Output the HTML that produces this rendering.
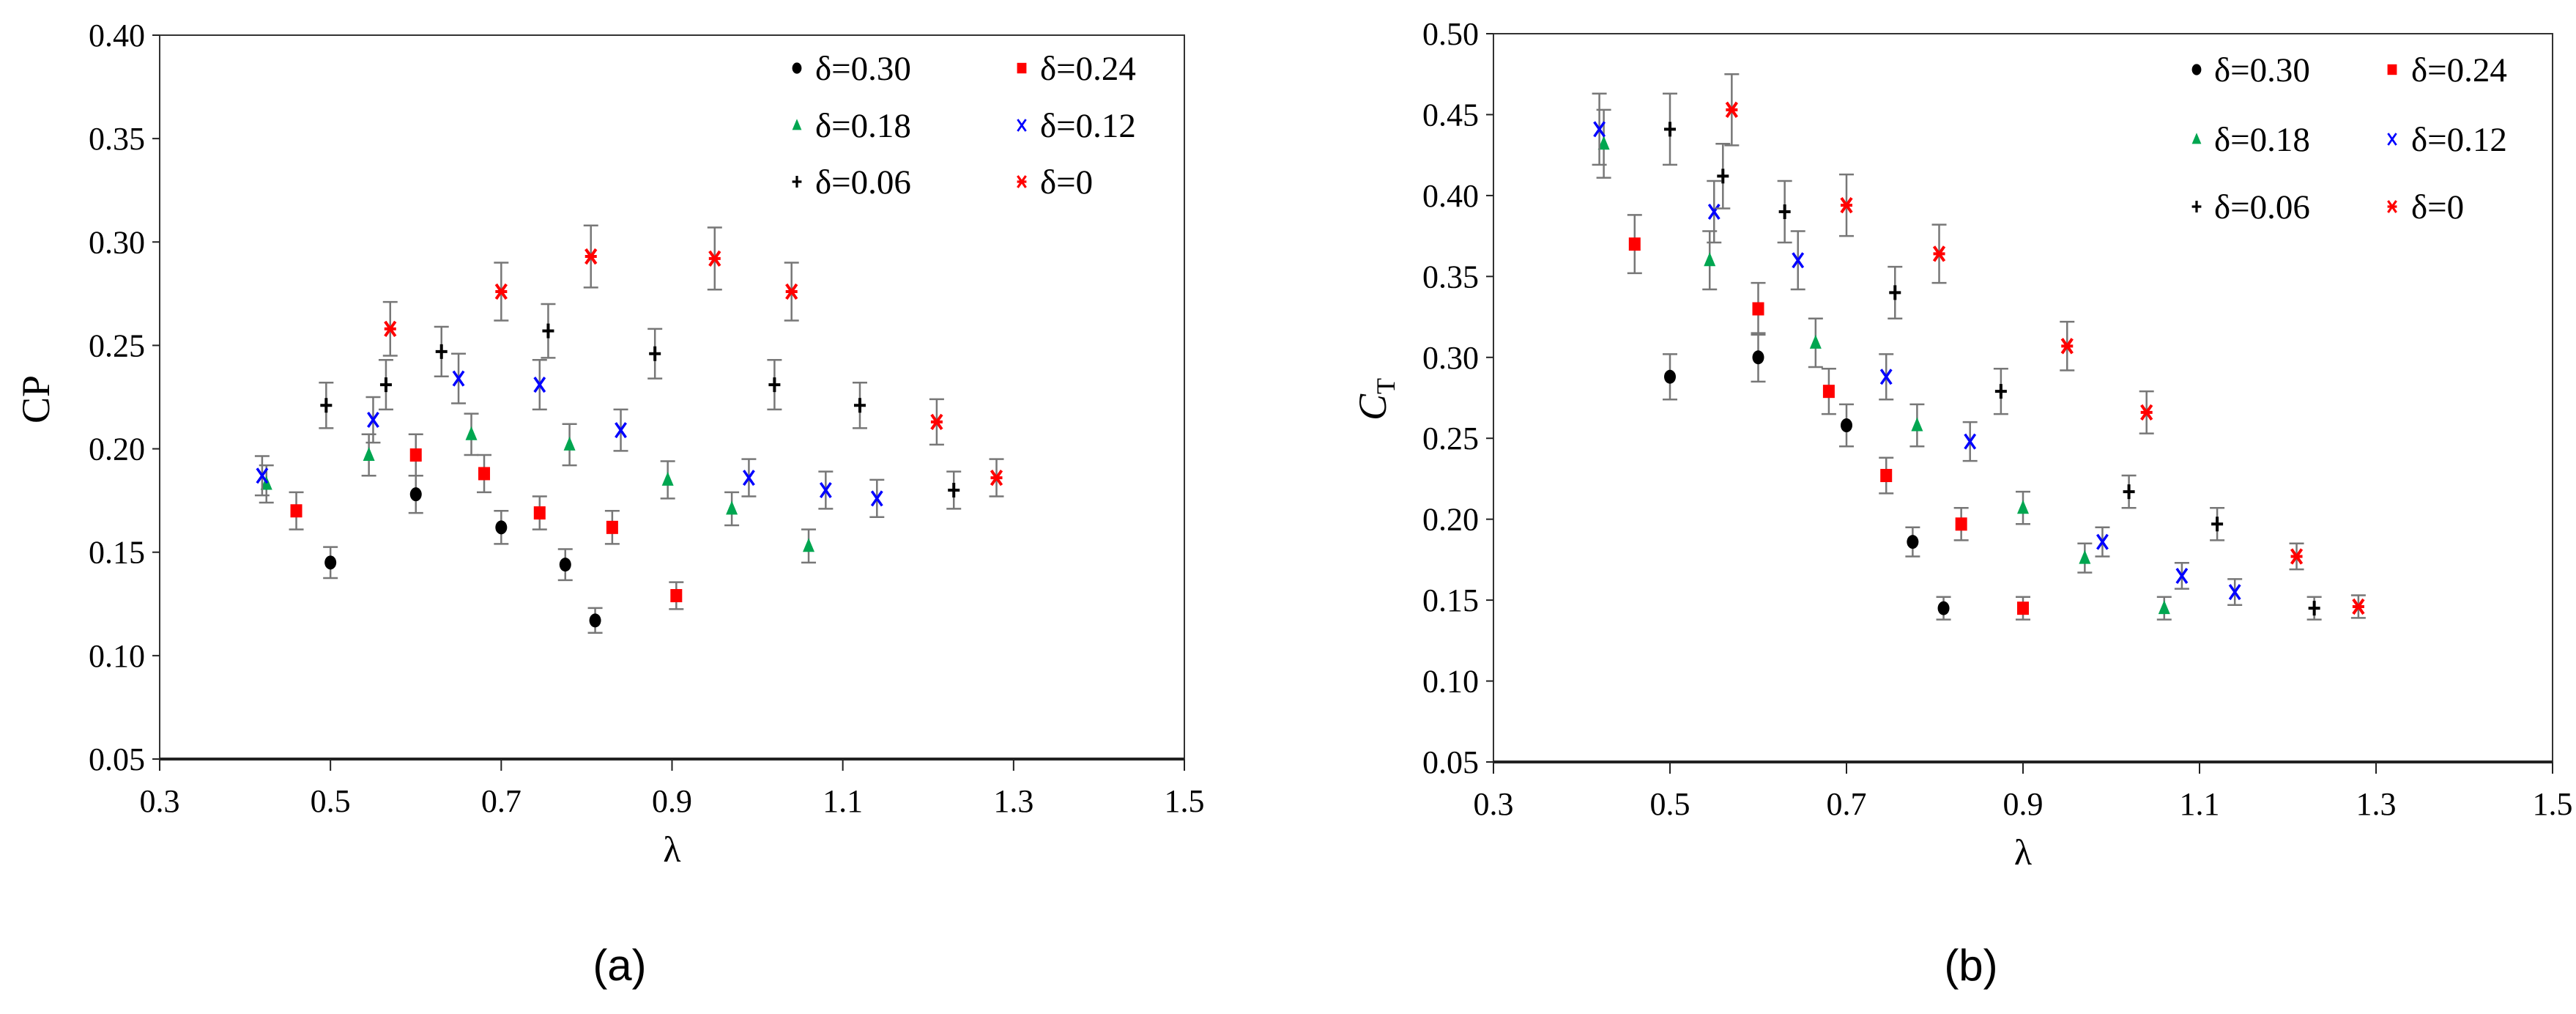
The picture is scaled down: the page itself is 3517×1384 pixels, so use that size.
<!DOCTYPE html>
<html><head><meta charset="utf-8"><style>
body{margin:0;background:#fff;}
svg{display:block;}
text{font-family:"Liberation Serif",serif;fill:#000;}
</style></head><body>
<svg id="fig" width="3517" height="1384" viewBox="0 0 3517 1384" xmlns="http://www.w3.org/2000/svg"></svg>
<script>
// ---- Data: panel (a) CP ----
const seriesNames = ["δ=0.30","δ=0.24","δ=0.18","δ=0.12","δ=0.06","δ=0"];
const xTicks = [0.3,0.5,0.7,0.9,1.1,1.3,1.5];
const xTickLabels = ["0.3","0.5","0.7","0.9","1.1","1.3","1.5"];
const cpTicks = [0.05,0.10,0.15,0.20,0.25,0.30,0.35,0.40];
const cpTickLabels = ["0.05","0.10","0.15","0.20","0.25","0.30","0.35","0.40"];
const ctTicks = [0.05,0.10,0.15,0.20,0.25,0.30,0.35,0.40,0.45,0.50];
const ctTickLabels = ["0.05","0.10","0.15","0.20","0.25","0.30","0.35","0.40","0.45","0.50"];

const cpLam30 = [0.50,0.60,0.70,0.775,0.81];
const cpVal30 = [0.145,0.178,0.162,0.144,0.117];
const cpErr30 = [0.0075,0.009,0.008,0.0075,0.006];
const cpLam24 = [0.46,0.60,0.68,0.745,0.83,0.905];
const cpVal24 = [0.170,0.197,0.188,0.169,0.162,0.129];
const cpErr24 = [0.009,0.010,0.009,0.008,0.008,0.0065];
const cpLam18 = [0.425,0.545,0.665,0.78,0.895,0.97,1.06];
const cpVal18 = [0.183,0.197,0.207,0.202,0.185,0.171,0.153];
const cpErr18 = [0.009,0.010,0.010,0.010,0.009,0.008,0.008];
const cpLam12 = [0.42,0.55,0.65,0.745,0.84,0.99,1.08,1.14];
const cpVal12 = [0.187,0.214,0.234,0.231,0.209,0.186,0.180,0.176];
const cpErr12 = [0.0095,0.011,0.012,0.012,0.010,0.009,0.009,0.009];
const cpLam06 = [0.495,0.565,0.63,0.755,0.88,1.02,1.12,1.23];
const cpVal06 = [0.221,0.231,0.247,0.257,0.246,0.231,0.221,0.180];
const cpErr06 = [0.011,0.012,0.012,0.013,0.012,0.012,0.011,0.009];
const cpLam00 = [0.57,0.70,0.805,0.95,1.04,1.21,1.28];
const cpVal00 = [0.258,0.276,0.293,0.292,0.276,0.213,0.186];
const cpErr00 = [0.013,0.014,0.015,0.015,0.014,0.011,0.009];

// ---- Data: panel (b) CT ----
const ctLam30 = [0.50,0.60,0.70,0.775,0.81];
const ctVal30 = [0.288,0.300,0.258,0.186,0.145];
const ctErr30 = [0.014,0.015,0.013,0.009,0.007];
const ctLam24 = [0.46,0.60,0.68,0.745,0.83,0.90];
const ctVal24 = [0.370,0.330,0.279,0.227,0.197,0.145];
const ctErr24 = [0.018,0.016,0.014,0.011,0.010,0.007];
const ctLam18 = [0.425,0.545,0.665,0.78,0.90,0.97,1.06];
const ctVal18 = [0.432,0.360,0.309,0.258,0.207,0.176,0.145];
const ctErr18 = [0.021,0.018,0.015,0.013,0.010,0.009,0.007];
const ctLam12 = [0.42,0.55,0.645,0.745,0.84,0.99,1.08,1.14];
const ctVal12 = [0.441,0.390,0.360,0.288,0.248,0.186,0.165,0.155];
const ctErr12 = [0.022,0.019,0.018,0.014,0.012,0.009,0.008,0.008];
const ctLam06 = [0.50,0.56,0.63,0.755,0.875,1.02,1.12,1.23];
const ctVal06 = [0.441,0.412,0.390,0.340,0.279,0.217,0.197,0.145];
const ctErr06 = [0.022,0.020,0.019,0.016,0.014,0.010,0.010,0.007];
const ctLam00 = [0.57,0.70,0.805,0.95,1.04,1.21,1.28];
const ctVal00 = [0.453,0.394,0.364,0.307,0.266,0.177,0.146];
const ctErr00 = [0.022,0.019,0.018,0.015,0.013,0.008,0.007];

const NS="http://www.w3.org/2000/svg";
const svg=document.getElementById('fig');
function mk(tag,attrs,parent){const e=document.createElementNS(NS,tag);for(const k in attrs)e.setAttribute(k,attrs[k]);(parent||svg).appendChild(e);return e;}

const colors=["#000","#ff0000","#00a650","#0000ff","#000","#ff0000"];
const kinds=["circle","square","triangle","x","plus","star"];

function marker(g,kind,cx,cy,col,s){
  let m;
  if(kind==="circle"){m=mk('ellipse',{cx:cx,cy:cy,rx:8*s,ry:9.5*s,fill:col},g);}
  else if(kind==="square"){m=mk('rect',{x:cx-8*s,y:cy-9*s,width:16*s,height:18*s,fill:col},g);}
  else if(kind==="triangle"){m=mk('polygon',{points:`${cx},${cy-11*s} ${cx+8*s},${cy+8*s} ${cx-8*s},${cy+8*s}`,fill:col},g);}
  else if(kind==="x"){m=mk('path',{d:`M${cx-7*s},${cy-10*s}L${cx+7*s},${cy+10*s}M${cx+7*s},${cy-10*s}L${cx-7*s},${cy+10*s}`,stroke:col,'stroke-width':3.5*s,fill:'none'},g);}
  else if(kind==="plus"){m=mk('path',{d:`M${cx-8*s},${cy}L${cx+8*s},${cy}M${cx},${cy-10*s}L${cx},${cy+10*s}`,stroke:col,'stroke-width':4*s,fill:'none'},g);}
  else {m=mk('path',{d:`M${cx-7*s},${cy-10*s}L${cx+7*s},${cy+10*s}M${cx+7*s},${cy-10*s}L${cx-7*s},${cy+10*s}M${cx-8*s},${cy}L${cx+8*s},${cy}`,stroke:col,'stroke-width':4*s,fill:'none'},g);}
  return m;
}

function panel(cfg){
  const g=mk('g',{});
  
  
  const xS=v=>cfg.L+(v-0.3)/1.2*(cfg.R-cfg.L);
  const yS=v=>cfg.B-(v-0.05)/(cfg.yMax-0.05)*(cfg.B-cfg.T);
  // frame
  const fr=mk('path',{d:`M${cfg.L},${cfg.B}L${cfg.L},${cfg.T}L${cfg.R},${cfg.T}L${cfg.R},${cfg.B}`,fill:'none',stroke:'#333','stroke-width':2},g);
  
  
  const xa=mk('line',{x1:cfg.L,y1:cfg.B,x2:cfg.R,y2:cfg.B,stroke:'#222','stroke-width':4},g);
  
  
  // y ticks
  cfg.yTicks.forEach((v,i)=>{
    const y=yS(v);
    mk('line',{x1:cfg.L-10,y1:y,x2:cfg.L,y2:y,stroke:'#222','stroke-width':2},g);
    const t=mk('text',{x:cfg.L-20,y:y+15,'font-size':44,'text-anchor':'end'},g);
    t.textContent=cfg.yLabels[i];
    
    
  });
  xTicks.forEach((v,i)=>{
    const x=xS(v);
    mk('line',{x1:x,y1:cfg.B,x2:x,y2:cfg.B+16,stroke:'#222','stroke-width':2},g);
    const t=mk('text',{x:x,y:cfg.B+72,'font-size':44,'text-anchor':'middle'},g);
    t.textContent=xTickLabels[i];
    
    
  });
  const xt=mk('text',{x:(cfg.L+cfg.R)/2,y:cfg.B+140,'font-size':50,'text-anchor':'middle'},g);
  xt.textContent='λ';
  
  
  cfg.yTitle(g);
  const cap=mk('text',{x:cfg.capX,y:1338,'font-size':60,'text-anchor':'middle',style:'font-family:"Liberation Sans",sans-serif'},g);
  cap.textContent=cfg.caption;
  
  
  // series
  cfg.series.forEach((s,si)=>{
    const sg=mk('g',{},g);
    
    
    s.lam.forEach((lv,j)=>{
      const x=xS(lv),y=yS(s.val[j]),y1=yS(s.val[j]+s.err[j]),y2=yS(s.val[j]-s.err[j]);
      const eb=mk('path',{d:`M${x},${y1}L${x},${y2}M${x-10},${y1}L${x+10},${y1}M${x-10},${y2}L${x+10},${y2}`,stroke:'#777','stroke-width':2.5,fill:'none'},sg);
      
      
      const m=marker(sg,kinds[si],x,y,colors[si],1);
      
      
    });
  });
  // legend
  const lg=mk('g',{},g);
  
  
  seriesNames.forEach((n,i)=>{
    const col=i%2,row=Math.floor(i/2);
    const mx=cfg.leg.mx[col],ty=cfg.leg.rows[row];
    const e=mk('g',{},lg);
    
    
    marker(e,kinds[i],mx,ty,colors[i],0.8);
    const t=mk('text',{x:cfg.leg.tx[col],y:ty+16,'font-size':47},e);
    t.textContent=n;
  });
}

panel({name:'cp-chart',L:218,R:1617,T:48,B:1036,yMax:0.40,yTicks:cpTicks,yLabels:cpTickLabels,caption:'(a)',capX:846,
  series:[{lam:cpLam30,val:cpVal30,err:cpErr30},{lam:cpLam24,val:cpVal24,err:cpErr24},{lam:cpLam18,val:cpVal18,err:cpErr18},
          {lam:cpLam12,val:cpVal12,err:cpErr12},{lam:cpLam06,val:cpVal06,err:cpErr06},{lam:cpLam00,val:cpVal00,err:cpErr00}],
  leg:{mx:[1088,1395],tx:[1113,1420],rows:[93,171,248]},
  yTitle:(g)=>{const t=mk('text',{x:0,y:0,'font-size':54,'text-anchor':'middle',transform:'translate(67,545) rotate(-90)'},g);t.textContent='CP';
    
    }
});
panel({name:'ct-chart',L:2039,R:3485,T:46,B:1040,yMax:0.50,yTicks:ctTicks,yLabels:ctTickLabels,caption:'(b)',capX:2691,
  series:[{lam:ctLam30,val:ctVal30,err:ctErr30},{lam:ctLam24,val:ctVal24,err:ctErr24},{lam:ctLam18,val:ctVal18,err:ctErr18},
          {lam:ctLam12,val:ctVal12,err:ctErr12},{lam:ctLam06,val:ctVal06,err:ctErr06},{lam:ctLam00,val:ctVal00,err:ctErr00}],
  leg:{mx:[2999,3266],tx:[3023,3292],rows:[95,190,282]},
  yTitle:(g)=>{const t=mk('text',{x:0,y:0,'font-size':54,'text-anchor':'middle',transform:'translate(1892,545) rotate(-90)','font-style':'italic'},g);
    t.textContent='C';
    const s=mk('tspan',{'font-size':36,'font-style':'normal',dy:12},t);s.textContent='T';
    
    }
});
</script>
</body></html>
